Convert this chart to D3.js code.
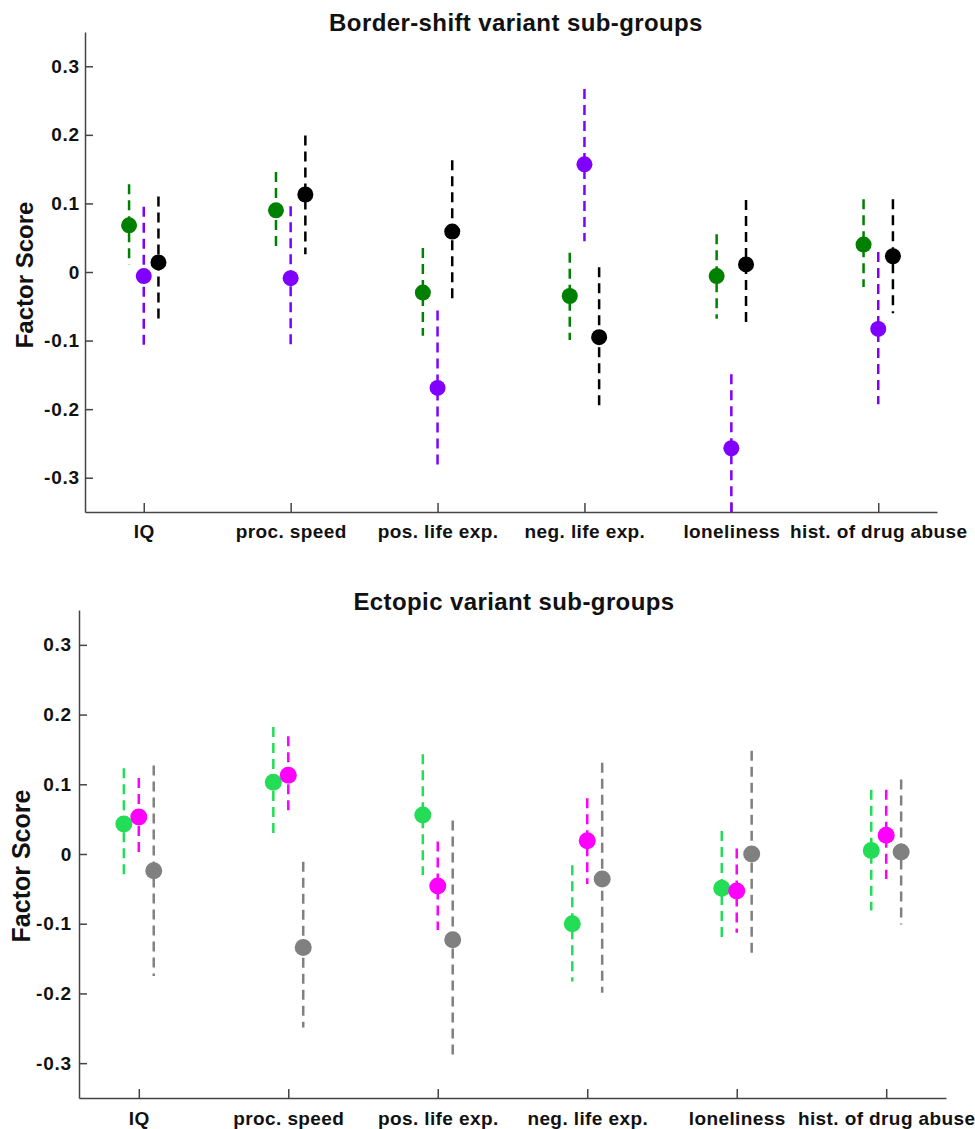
<!DOCTYPE html>
<html>
<head>
<meta charset="utf-8">
<script src="https://cdn.jsdelivr.net/npm/d3@7"></script>
<style>
  body { margin: 0; background: #fff; }
  text { font-family: "Liberation Sans", Arial, sans-serif; font-weight: bold; fill: #111; }
</style>
</head>
<body>
<svg id="chart" width="975" height="1129"></svg>
<script>
"use strict";

var categories = ["IQ", "proc. speed", "pos. life exp.", "neg. life exp.", "loneliness", "hist. of drug abuse"];
var yTicks = [-0.3, -0.2, -0.1, 0, 0.1, 0.2, 0.3];
var yTickLabels = ["-0.3", "-0.2", "-0.1", "0", "0.1", "0.2", "0.3"];

// Border-shift variant sub-groups
var borderGreenMean = [0.068, 0.090, -0.030, -0.035, -0.006, 0.040];
var borderGreenHigh = [0.128, 0.146, 0.035, 0.028, 0.055, 0.106];
var borderGreenLow = [0.011, 0.034, -0.093, -0.099, -0.068, -0.022];
var borderPurpleMean = [-0.006, -0.009, -0.169, 0.157, -0.257, -0.083];
var borderPurpleHigh = [0.095, 0.096, -0.056, 0.267, -0.149, 0.029];
var borderPurpleLow = [-0.106, -0.112, -0.283, 0.045, -0.370, -0.193];
var borderBlackMean = [0.014, 0.113, 0.059, -0.095, 0.011, 0.023];
var borderBlackHigh = [0.110, 0.199, 0.163, 0.007, 0.105, 0.106];
var borderBlackLow = [-0.073, 0.026, -0.044, -0.196, -0.079, -0.060];

// Ectopic variant sub-groups
var ectopicGreenMean = [0.043, 0.103, 0.056, -0.100, -0.049, 0.005];
var ectopicGreenHigh = [0.123, 0.182, 0.143, -0.016, 0.033, 0.092];
var ectopicGreenLow = [-0.031, 0.026, -0.030, -0.183, -0.122, -0.081];
var ectopicMagentaMean = [0.053, 0.113, -0.046, 0.019, -0.053, 0.027];
var ectopicMagentaHigh = [0.109, 0.169, 0.018, 0.080, 0.008, 0.092];
var ectopicMagentaLow = [-0.004, 0.057, -0.109, -0.043, -0.113, -0.036];
var ectopicGreyMean = [-0.024, -0.134, -0.123, -0.036, 0.000, 0.003];
var ectopicGreyHigh = [0.127, -0.011, 0.048, 0.131, 0.148, 0.107];
var ectopicGreyLow = [-0.175, -0.249, -0.295, -0.199, -0.145, -0.101];

var svg = d3.select("#chart");

function drawPanel(opts) {
  var x = d3.scaleLinear().domain([0.6, 6.4]).range([opts.left, opts.right]);
  var y = d3.scaleLinear().domain([-0.35, 0.35]).range([opts.bottom, opts.top]);
  var g = svg.append("g");

  // clip so bars running past the axis stop at it
  g.append("clipPath").attr("id", opts.id + "Clip")
    .append("rect")
    .attr("x", opts.left).attr("y", opts.top)
    .attr("width", opts.right - opts.left).attr("height", opts.bottom - opts.top);

  // axes, MATLAB style ticks pointing in
  var yAxis = d3.axisLeft(y).tickValues(yTicks)
    .tickFormat(function (d, i) { return yTickLabels[i]; })
    .tickSizeInner(-8).tickSizeOuter(0).tickPadding(opts.yPad);
  var xAxis = d3.axisBottom(x).tickValues(d3.range(1, categories.length + 1))
    .tickFormat(function (d) { return categories[d - 1]; })
    .tickSizeInner(-9).tickSizeOuter(0).tickPadding(opts.xPad);

  var ya = g.append("g").attr("transform", "translate(" + opts.left + ",0)").call(yAxis);
  var xa = g.append("g").attr("transform", "translate(0," + opts.bottom + ")").call(xAxis);
  [ya, xa].forEach(function (a) {
    a.select(".domain").style("stroke", "#444").style("stroke-width", 1.5);
    a.selectAll(".tick line").style("stroke", "#444").style("stroke-width", 1.5);
    a.selectAll("text").style("font-family", "'Liberation Sans', Arial, sans-serif")
      .style("font-weight", "bold").style("fill", "#111");
  });
  ya.selectAll("text").style("font-size", opts.yFont + "px").style("letter-spacing", "0.8px");
  xa.selectAll("text").style("font-size", opts.xFont + "px").style("letter-spacing", "0.4px")
    .attr("dy", "0.55em");

  // title + y label
  g.append("text")
    .attr("x", opts.titleX).attr("y", opts.titleY)
    .attr("text-anchor", "middle")
    .style("font-size", "24px").style("letter-spacing", "0.4px")
    .text(opts.title);
  g.append("text")
    .attr("transform", "translate(" + opts.labelX + "," + opts.labelY + ") rotate(-90)")
    .attr("text-anchor", "middle")
    .style("font-size", opts.labelFont + "px")
    .text("Factor Score");

  var marks = g.append("g").attr("clip-path", "url(#" + opts.id + "Clip)");
  opts.series.forEach(function (s) {
    var rows = s.mean.map(function (m, i) {
      return { pos: i + 1 + s.offset, mean: m, high: s.high[i], low: s.low[i] };
    });
    marks.selectAll(null).data(rows).enter().append("line")
      .attr("x1", function (d) { return x(d.pos); })
      .attr("x2", function (d) { return x(d.pos); })
      .attr("y1", function (d) { return y(d.high); })
      .attr("y2", function (d) { return y(d.low); })
      .style("stroke", s.color)
      .style("stroke-width", 2.5)
      .style("stroke-dasharray", "10,6");
    marks.selectAll(null).data(rows).enter().append("circle")
      .attr("cx", function (d) { return x(d.pos); })
      .attr("cy", function (d) { return y(d.mean); })
      .attr("r", opts.r)
      .style("fill", s.color);
  });
}

drawPanel({
  id: "border",
  left: 85, right: 937, top: 32, bottom: 512,
  yPad: 5, xPad: 16, yFont: 19, xFont: 19, r: 8,
  title: "Border-shift variant sub-groups", titleX: 516, titleY: 31,
  labelX: 33, labelY: 275, labelFont: 24,
  series: [
    { mean: borderGreenMean, high: borderGreenHigh, low: borderGreenLow, color: "#008000", offset: -0.1 },
    { mean: borderPurpleMean, high: borderPurpleHigh, low: borderPurpleLow, color: "#8000ff", offset: 0 },
    { mean: borderBlackMean, high: borderBlackHigh, low: borderBlackLow, color: "#000000", offset: 0.1 }
  ]
});

drawPanel({
  id: "ectopic",
  left: 79, right: 946, top: 610, bottom: 1098,
  yPad: 7, xPad: 17, yFont: 19, xFont: 19, r: 8.5,
  title: "Ectopic variant sub-groups", titleX: 514, titleY: 610,
  labelX: 30, labelY: 866, labelFont: 25,
  series: [
    { mean: ectopicGreenMean, high: ectopicGreenHigh, low: ectopicGreenLow, color: "#22dd55", offset: -0.1 },
    { mean: ectopicMagentaMean, high: ectopicMagentaHigh, low: ectopicMagentaLow, color: "#ff00ff", offset: 0 },
    { mean: ectopicGreyMean, high: ectopicGreyHigh, low: ectopicGreyLow, color: "#808080", offset: 0.1 }
  ]
});
</script>
</body>
</html>
